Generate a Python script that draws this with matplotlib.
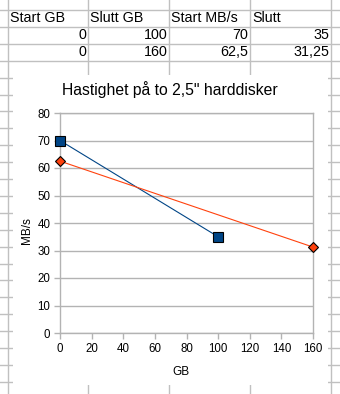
import matplotlib
matplotlib.use("Agg")
import matplotlib.pyplot as plt
from matplotlib.lines import Line2D
from matplotlib.patches import Rectangle

plt.rcParams['font.family'] = ['Liberation Sans', 'DejaVu Sans']

# table / series data
headers = ["Start GB", "Slutt GB", "Start MB/s", "Slutt"]
start_gb = [0, 0]
slutt_gb = [100, 160]
start_mbs = [70, 62.5]
slutt_mbs = [35, 31.25]
colors = ["#004586", "#ff420e"]
markers = ["s", "D"]

W, H = 340, 394
fig = plt.figure(figsize=(W / 100, H / 100), dpi=100)
fig.patch.set_facecolor("white")


def fx(x):
    return x / W


def fy(y):
    return 1 - y / H


def num(v):
    s = ("%g" % v).replace(".", ",")
    return s


# spreadsheet grid
grid_c = "#c0c0c0"
col_x = [8, 88, 169, 250, 331]
for x in col_x:
    fig.add_artist(Line2D([fx(x), fx(x)], [0, 1], color=grid_c, lw=1, zorder=1))
row_y = [10 + 16.9 * k for k in range(23)]
for y in row_y:
    fig.add_artist(Line2D([0, 1], [fy(y), fy(y)], color=grid_c, lw=1, zorder=1))

# chart object covers the cells
fig.add_artist(Rectangle((fx(13), fy(385)), fx(328) - fx(13), fy(75) - fy(385),
                         facecolor="white", edgecolor="none", zorder=2))

# table contents
for i, h in enumerate(headers):
    fig.text(fx(col_x[i] + 2), fy(18.5), h, fontsize=10.3, ha="left", va="center", zorder=3)
rows = list(zip(start_gb, slutt_gb, start_mbs, slutt_mbs))
for r, vals in enumerate(rows):
    yc = 35 + 16.6 * r
    for i, v in enumerate(vals):
        fig.text(fx(col_x[i + 1] - 1.5), fy(yc), num(v), fontsize=10.3,
                 ha="right", va="center", zorder=3)

# chart
ax = fig.add_axes([fx(60), fy(333), fx(313) - fx(60), fy(113) - fy(333)])
ax.set_zorder(5)
ax.set_facecolor("white")

xs = [[start_gb[0], slutt_gb[0]], [start_gb[1], slutt_gb[1]]]
ys = [[start_mbs[0], slutt_mbs[0]], [start_mbs[1], slutt_mbs[1]]]
sizes = [7, 4.9]
for k in range(2):
    ax.plot(xs[k], ys[k], color=colors[k], lw=0.8, marker=markers[k],
            markersize=sizes[k], markerfacecolor=colors[k],
            markeredgecolor="black", markeredgewidth=0.8, clip_on=False, zorder=4)

ax.set_xlim(0, 160)
ax.set_ylim(0, 80)
ax.set_xticks(range(0, 161, 20))
ax.set_yticks(range(0, 81, 10))
ax.yaxis.grid(True, color="#b3b3b3", lw=1)
ax.set_axisbelow(True)
for sp in ax.spines.values():
    sp.set_color("#b3b3b3")
    sp.set_linewidth(1)
ax.tick_params(direction="out", length=4, width=1, color="#b3b3b3",
               labelsize=8.3, labelcolor="black", pad=3)

fig.text(fx(170), fy(90), 'Hastighet på to 2,5" harddisker', fontsize=11.3,
         ha="center", va="center", zorder=6)
ax.set_xlabel("GB", fontsize=8.5)
ax.xaxis.set_label_coords((181 - 60) / 253, -(366 - 333) / 220)
ax.set_ylabel("MB/s", fontsize=8.5)
ax.yaxis.set_label_coords((33 - 60) / 253, (333 - 231) / 220)

fig.savefig("out.png", dpi=100)
